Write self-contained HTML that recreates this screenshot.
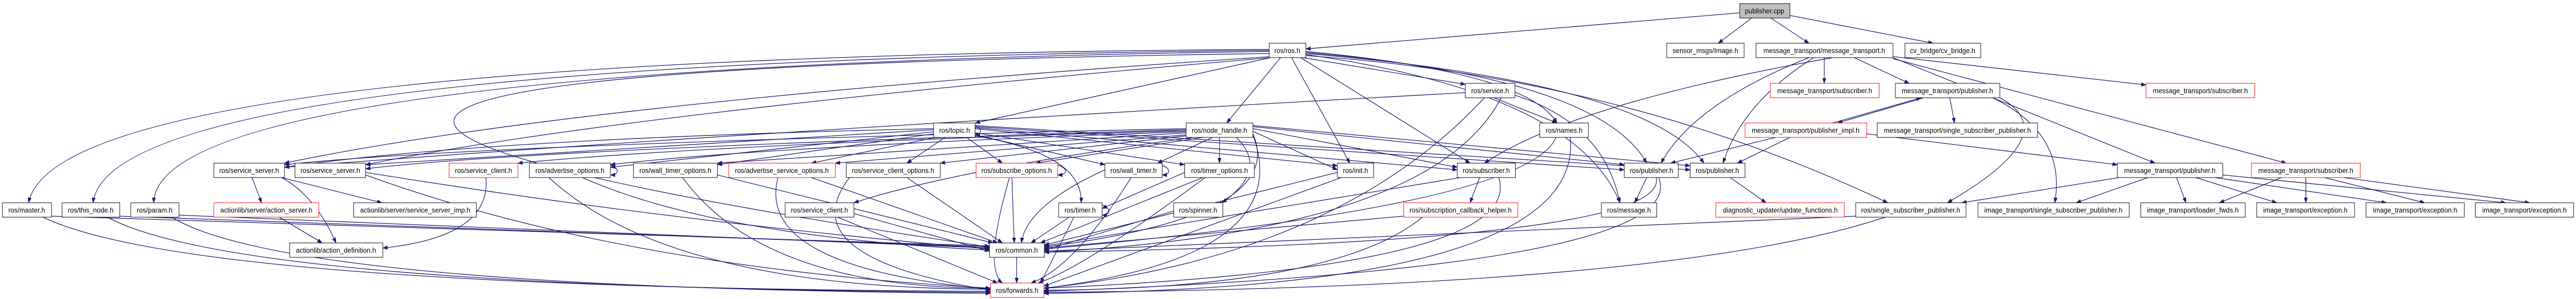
<!DOCTYPE html>
<html><head><meta charset="utf-8"><style>
html,body{margin:0;padding:0;background:#fff;width:100vw;height:100vh;overflow:hidden;}
svg{display:block;position:absolute;left:0;top:0;width:100vw;height:100vh;}
text{font-family:"Liberation Sans",Arial,sans-serif;font-size:14px;fill:#000;}
.e{fill:none;stroke:#191970;stroke-width:1.3;marker-end:url(#a);}
.n{fill:#fff;stroke:#000;stroke-width:1;}
.r{fill:#fff;stroke:#ff0000;stroke-width:1;}
</style></head><body>
<svg viewBox="0 0 5397 581" preserveAspectRatio="none" xmlns="http://www.w3.org/2000/svg">
<defs><marker id="a" markerUnits="userSpaceOnUse" markerWidth="11" markerHeight="8" refX="10" refY="4" orient="auto"><path d="M0,0 L11,4 L0,8 z" fill="#191970"/></marker></defs>
<g>
<path class="e" d="M3645,25 L2736,95"/>
<path class="e" d="M3670,35 L3600,84"/>
<path class="e" d="M3710,35 L3790,84"/>
<path class="e" d="M3750,30 L4050,84"/>
<path class="e" d="M2659,96 Q120,110 60,394"/>
<path class="e" d="M2659,98 Q230,120 195,394"/>
<path class="e" d="M2659,100 Q330,130 322,394"/>
<path class="e" d="M2659,104 C600,130 400,250 2073,480"/>
<path class="e" d="M2662,110 Q1200,200 596,317"/>
<path class="e" d="M2662,112 Q1300,220 766,320"/>
<path class="e" d="M2662,112 L2043,239"/>
<path class="e" d="M2683,112 L2570,239"/>
<path class="e" d="M2730,112 L3070,164"/>
<path class="e" d="M2736,100 Q3200,140 3262,239"/>
<path class="e" d="M2706,112 L2828,317"/>
<path class="e" d="M2725,112 L3080,317"/>
<path class="e" d="M2736,102 Q3350,150 3450,317"/>
<path class="e" d="M2736,104 Q3450,160 3570,317"/>
<path class="e" d="M2736,106 Q3300,180 3394,394"/>
<path class="e" d="M2736,108 Q3400,150 3955,394"/>
<path class="e" d="M3070,180 Q1500,260 596,325"/>
<path class="e" d="M3130,190 L3262,239"/>
<path class="e" d="M3110,190 Q2800,500 2187,560"/>
<path class="e" d="M3145,190 Q3000,450 2188,490"/>
<path class="e" d="M3174,185 Q3360,240 3394,394"/>
<path class="e" d="M2485,250 Q1000,280 596,320"/>
<path class="e" d="M2485,252 Q1100,290 766,328"/>
<path class="e" d="M2485,254 Q1500,280 1085,317"/>
<path class="e" d="M2485,256 Q1600,285 1279,320"/>
<path class="e" d="M2485,258 L1503,317"/>
<path class="e" d="M2485,262 L1750,317"/>
<path class="e" d="M2485,264 L1970,317"/>
<path class="e" d="M2520,267 L2170,317"/>
<path class="e" d="M2540,267 L2425,317"/>
<path class="e" d="M2555,267 L2555,317"/>
<path class="e" d="M2590,267 Q2660,330 2560,394"/>
<path class="e" d="M2500,267 Q2000,330 1789,394"/>
<path class="e" d="M2625,260 Q2700,420 2188,480"/>
<path class="e" d="M2625,262 Q2720,500 2187,560"/>
<path class="e" d="M2625,255 L2802,330"/>
<path class="e" d="M2625,250 L3053,325"/>
<path class="e" d="M2625,246 L3403,320"/>
<path class="e" d="M2625,244 L3541,322"/>
<path class="e" d="M1956,250 Q1000,270 596,325"/>
<path class="e" d="M1956,252 L766,320"/>
<path class="e" d="M1956,256 L1279,325"/>
<path class="e" d="M1956,260 L1503,320"/>
<path class="e" d="M1960,267 L1700,317"/>
<path class="e" d="M1980,267 L1900,317"/>
<path class="e" d="M2025,267 L2100,317"/>
<path class="e" d="M2043,262 L2315,320"/>
<path class="e" d="M2043,258 L2482,320"/>
<path class="e" d="M2043,264 Q2270,300 2265,394"/>
<path class="e" d="M2043,250 L2802,322"/>
<path class="e" d="M2043,248 L3053,330"/>
<path class="e" d="M2043,246 L3403,330"/>
<path class="e" d="M2043,244 L3541,330"/>
<path class="e" d="M2030,241 C2060,245 2060,262 2043,262"/>
<path class="e" d="M528,345 L548,394"/>
<path class="e" d="M590,345 Q660,380 704,472"/>
<path class="e" d="M590,345 L800,394"/>
<path class="e" d="M766,335 Q1400,430 2073,484"/>
<path class="e" d="M766,340 Q1300,520 2075,560"/>
<path class="e" d="M1018,345 Q1030,460 802,482"/>
<path class="e" d="M1220,345 Q1500,460 2073,486"/>
<path class="e" d="M1150,345 Q1400,560 2075,562"/>
<path class="e" d="M1265,318 C1300,322 1300,340 1279,340"/>
<path class="e" d="M1503,340 L2080,472"/>
<path class="e" d="M1430,345 Q1600,560 2075,560"/>
<path class="e" d="M1700,345 L2090,472"/>
<path class="e" d="M1630,345 Q1580,520 2075,562"/>
<path class="e" d="M1900,345 L2100,472"/>
<path class="e" d="M1780,345 Q1650,500 2075,564"/>
<path class="e" d="M2120,345 L2125,472"/>
<path class="e" d="M2115,345 Q2060,520 2100,550"/>
<path class="e" d="M2200,318 C2240,322 2240,340 2216,340"/>
<path class="e" d="M2315,330 Q2150,400 2140,472"/>
<path class="e" d="M2370,345 Q2250,520 2160,550"/>
<path class="e" d="M2420,318 C2455,322 2455,340 2435,340"/>
<path class="e" d="M2482,335 L2309,405"/>
<path class="e" d="M2520,345 L2180,472"/>
<path class="e" d="M2525,345 Q2270,520 2175,550"/>
<path class="e" d="M2802,335 L2188,476"/>
<path class="e" d="M2810,345 L2187,556"/>
<path class="e" d="M3100,345 L3080,394"/>
<path class="e" d="M3060,345 L2188,478"/>
<path class="e" d="M3140,345 Q3200,520 2187,560"/>
<path class="e" d="M3450,345 L3425,394"/>
<path class="e" d="M3475,345 Q3550,520 2187,566"/>
<path class="e" d="M3470,345 Q3500,470 2188,490"/>
<path class="e" d="M3625,345 L3700,394"/>
<path class="e" d="M108,420 L2073,478"/>
<path class="e" d="M90,422 Q400,560 2075,566"/>
<path class="e" d="M251,420 L2073,480"/>
<path class="e" d="M225,422 Q500,560 2075,568"/>
<path class="e" d="M375,418 L2073,482"/>
<path class="e" d="M360,422 Q600,560 2075,570"/>
<path class="e" d="M585,422 L675,472"/>
<path class="e" d="M1789,415 L2073,488"/>
<path class="e" d="M1755,422 L2090,550"/>
<path class="e" d="M2240,422 L2160,472"/>
<path class="e" d="M2250,422 L2180,550"/>
<path class="e" d="M2295,395 C2330,400 2330,418 2309,418"/>
<path class="e" d="M2459,410 L2188,486"/>
<path class="e" d="M2941,420 L2188,482"/>
<path class="e" d="M2980,422 Q2800,560 2187,564"/>
<path class="e" d="M3888,420 L2188,488"/>
<path class="e" d="M3950,422 Q3500,560 2187,568"/>
<path class="e" d="M3290,267 Q3320,560 2187,570"/>
<path class="e" d="M3260,267 Q3200,400 2188,484"/>
<path class="e" d="M2130,500 L2130,550"/>
<path class="e" d="M3822,112 L3822,162"/>
<path class="e" d="M3885,112 L4000,162"/>
<path class="e" d="M3840,112 Q3300,200 3110,317"/>
<path class="e" d="M3790,112 Q3550,200 3480,317"/>
<path class="e" d="M3800,112 Q3650,200 3610,317"/>
<path class="e" d="M3966,110 L4496,165"/>
<path class="e" d="M3966,112 Q4200,200 4515,317"/>
<path class="e" d="M3966,114 L4790,317"/>
<path class="e" d="M4030,190 L3850,239"/>
<path class="e" d="M3840,239 L4025,190"/>
<path class="e" d="M4085,190 L4095,239"/>
<path class="e" d="M4190,190 Q4330,260 4080,394"/>
<path class="e" d="M4175,190 Q4330,260 4305,394"/>
<path class="e" d="M3720,267 L3500,317"/>
<path class="e" d="M3750,267 L3640,317"/>
<path class="e" d="M3911,260 L4436,320"/>
<path class="e" d="M4440,345 L4110,394"/>
<path class="e" d="M4500,345 L4350,394"/>
<path class="e" d="M4560,345 L4580,394"/>
<path class="e" d="M4600,345 L4770,394"/>
<path class="e" d="M4640,345 L5000,394"/>
<path class="e" d="M4657,340 L5250,394"/>
<path class="e" d="M4780,345 L4650,394"/>
<path class="e" d="M4831,345 L4831,394"/>
<path class="e" d="M4870,345 L5080,394"/>
<path class="e" d="M4910,345 L5300,394"/>
</g>
<g>
<rect x="3645" y="7" width="105" height="28" fill="#bfbfbf" stroke="#000"/><text x="3697" y="26" text-anchor="middle">publisher.cpp</text>
<rect class="n" x="2659" y="84" width="77" height="28"/><text x="2697" y="103" text-anchor="middle">ros/ros.h</text>
<rect class="n" x="3492" y="84" width="162" height="28"/><text x="3573" y="103" text-anchor="middle">sensor_msgs/Image.h</text>
<rect class="n" x="3679" y="84" width="287" height="28"/><text x="3822" y="103" text-anchor="middle">message_transport/message_transport.h</text>
<rect class="n" x="3991" y="84" width="159" height="28"/><text x="4070" y="103" text-anchor="middle">cv_bridge/cv_bridge.h</text>
<rect class="n" x="3070" y="162" width="104" height="28"/><text x="3122" y="181" text-anchor="middle">ros/service.h</text>
<rect class="r" x="3709" y="162" width="228" height="28"/><text x="3823" y="181" text-anchor="middle">message_transport/subscriber.h</text>
<rect class="n" x="3971" y="162" width="219" height="28"/><text x="4080" y="181" text-anchor="middle">message_transport/publisher.h</text>
<rect class="r" x="4496" y="162" width="228" height="28"/><text x="4610" y="181" text-anchor="middle">message_transport/subscriber.h</text>
<rect class="n" x="1956" y="239" width="87" height="28"/><text x="2000" y="258" text-anchor="middle">ros/topic.h</text>
<rect class="n" x="2485" y="239" width="140" height="28"/><text x="2555" y="258" text-anchor="middle">ros/node_handle.h</text>
<rect class="n" x="3226" y="239" width="102" height="28"/><text x="3277" y="258" text-anchor="middle">ros/names.h</text>
<rect class="r" x="3656" y="239" width="255" height="28"/><text x="3783" y="258" text-anchor="middle">message_transport/publisher_impl.h</text>
<rect class="n" x="3933" y="239" width="336" height="28"/><text x="4101" y="258" text-anchor="middle">message_transport/single_subscriber_publisher.h</text>
<rect class="n" x="448" y="317" width="148" height="28"/><text x="522" y="336" text-anchor="middle">ros/service_server.h</text>
<rect class="n" x="618" y="317" width="148" height="28"/><text x="692" y="336" text-anchor="middle">ros/service_server.h</text>
<rect class="r" x="941" y="317" width="144" height="28"/><text x="1013" y="336" text-anchor="middle">ros/service_client.h</text>
<rect class="n" x="1109" y="317" width="170" height="28"/><text x="1194" y="336" text-anchor="middle">ros/advertise_options.h</text>
<rect class="n" x="1327" y="317" width="176" height="28"/><text x="1415" y="336" text-anchor="middle">ros/wall_timer_options.h</text>
<rect class="r" x="1527" y="317" width="223" height="28"/><text x="1638" y="336" text-anchor="middle">ros/advertise_service_options.h</text>
<rect class="n" x="1773" y="317" width="197" height="28"/><text x="1871" y="336" text-anchor="middle">ros/service_client_options.h</text>
<rect class="r" x="2045" y="317" width="171" height="28"/><text x="2130" y="336" text-anchor="middle">ros/subscribe_options.h</text>
<rect class="n" x="2315" y="317" width="120" height="28"/><text x="2375" y="336" text-anchor="middle">ros/wall_timer.h</text>
<rect class="n" x="2482" y="317" width="146" height="28"/><text x="2555" y="336" text-anchor="middle">ros/timer_options.h</text>
<rect class="n" x="2802" y="317" width="76" height="28"/><text x="2840" y="336" text-anchor="middle">ros/init.h</text>
<rect class="n" x="3053" y="317" width="122" height="28"/><text x="3114" y="336" text-anchor="middle">ros/subscriber.h</text>
<rect class="n" x="3403" y="317" width="113" height="28"/><text x="3460" y="336" text-anchor="middle">ros/publisher.h</text>
<rect class="n" x="3541" y="317" width="115" height="28"/><text x="3598" y="336" text-anchor="middle">ros/publisher.h</text>
<rect class="n" x="4436" y="317" width="221" height="28"/><text x="4546" y="336" text-anchor="middle">message_transport/publisher.h</text>
<rect class="r" x="4717" y="317" width="228" height="28"/><text x="4831" y="336" text-anchor="middle">message_transport/subscriber.h</text>
<rect class="n" x="5" y="394" width="103" height="28"/><text x="56" y="413" text-anchor="middle">ros/master.h</text>
<rect class="n" x="130" y="394" width="121" height="28"/><text x="190" y="413" text-anchor="middle">ros/this_node.h</text>
<rect class="n" x="274" y="394" width="101" height="28"/><text x="324" y="413" text-anchor="middle">ros/param.h</text>
<rect class="r" x="448" y="394" width="220" height="28"/><text x="558" y="413" text-anchor="middle">actionlib/server/action_server.h</text>
<rect class="n" x="741" y="394" width="257" height="28"/><text x="870" y="413" text-anchor="middle">actionlib/server/service_server_imp.h</text>
<rect class="n" x="1645" y="394" width="144" height="28"/><text x="1717" y="413" text-anchor="middle">ros/service_client.h</text>
<rect class="n" x="2218" y="394" width="91" height="28"/><text x="2263" y="413" text-anchor="middle">ros/timer.h</text>
<rect class="n" x="2459" y="394" width="103" height="28"/><text x="2510" y="413" text-anchor="middle">ros/spinner.h</text>
<rect class="r" x="2941" y="394" width="239" height="28"/><text x="3060" y="413" text-anchor="middle">ros/subscription_callback_helper.h</text>
<rect class="n" x="3355" y="394" width="116" height="28"/><text x="3413" y="413" text-anchor="middle">ros/message.h</text>
<rect class="r" x="3595" y="394" width="269" height="28"/><text x="3730" y="413" text-anchor="middle">diagnostic_updater/update_functions.h</text>
<rect class="n" x="3888" y="394" width="231" height="28"/><text x="4003" y="413" text-anchor="middle">ros/single_subscriber_publisher.h</text>
<rect class="n" x="4144" y="394" width="317" height="28"/><text x="4302" y="413" text-anchor="middle">image_transport/single_subscriber_publisher.h</text>
<rect class="n" x="4485" y="394" width="219" height="28"/><text x="4594" y="413" text-anchor="middle">image_transport/loader_fwds.h</text>
<rect class="n" x="4728" y="394" width="205" height="28"/><text x="4830" y="413" text-anchor="middle">image_transport/exception.h</text>
<rect class="n" x="4957" y="394" width="206" height="28"/><text x="5060" y="413" text-anchor="middle">image_transport/exception.h</text>
<rect class="n" x="5186" y="394" width="206" height="28"/><text x="5289" y="413" text-anchor="middle">image_transport/exception.h</text>
<rect class="n" x="607" y="472" width="195" height="28"/><text x="704" y="491" text-anchor="middle">actionlib/action_definition.h</text>
<rect class="n" x="2073" y="472" width="115" height="28"/><text x="2130" y="491" text-anchor="middle">ros/common.h</text>
<rect class="r" x="2075" y="550" width="112" height="28"/><text x="2131" y="569" text-anchor="middle">ros/forwards.h</text>
</g>
</svg>
</body></html>
